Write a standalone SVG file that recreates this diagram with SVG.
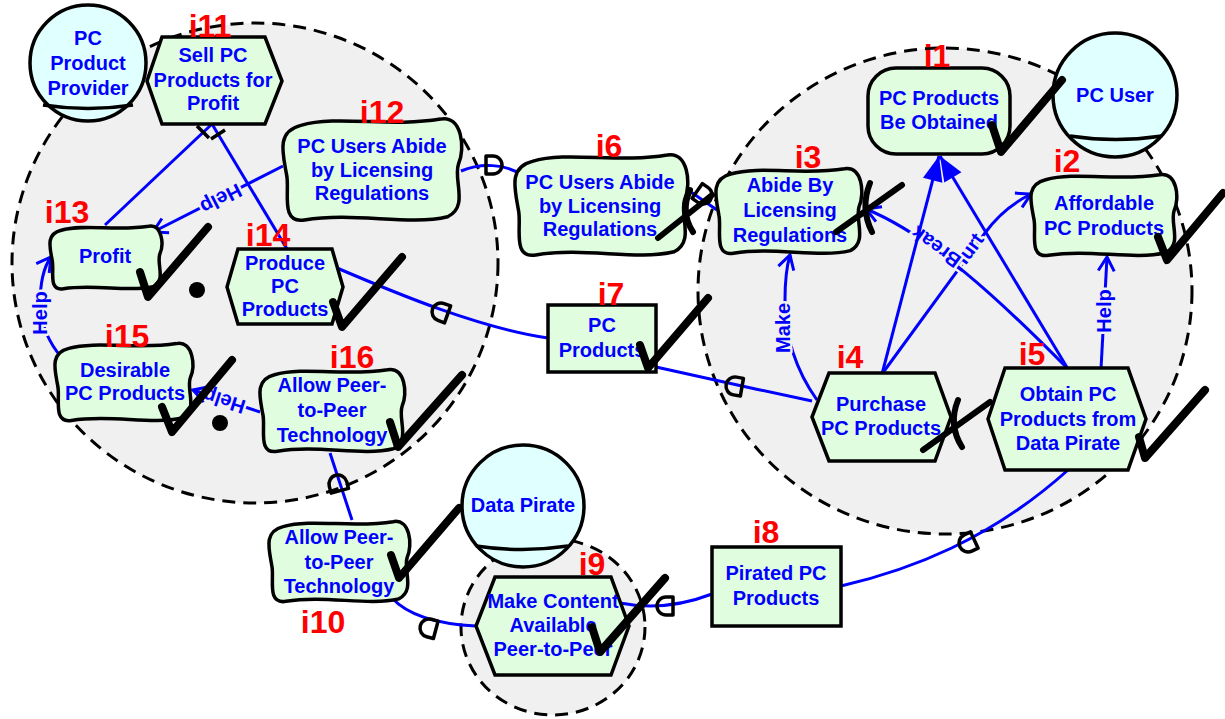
<svg xmlns="http://www.w3.org/2000/svg" xmlns:xlink="http://www.w3.org/1999/xlink" width="1225" height="719" viewBox="0 0 1225 719">
  <style>
    .bound { fill: #f0f0f0; stroke: #000; stroke-width: 3; stroke-dasharray: 13 8; }
    .actor { fill: #e0ffff; stroke: #000; stroke-width: 3.5; }
    .arc { fill: none; stroke: #000; stroke-width: 3.5; }
    .el { fill: #e0fde0; stroke: #000; stroke-width: 3.5; }
    .t { font-family: "Liberation Sans", Arial, sans-serif; font-weight: bold; font-size: 20px; fill: #0000ff; text-anchor: middle; }
    .id { font-family: "Liberation Sans", Arial, sans-serif; font-weight: bold; font-size: 32px; fill: #ff0000; text-anchor: middle; }
    .lnk { fill: none; stroke: #0000ff; stroke-width: 3; }
    .lbl { font-family: "Liberation Sans", Arial, sans-serif; font-weight: bold; font-size: 20px; fill: #0000ff; text-anchor: middle; dominant-baseline: central; stroke: #f0f0f0; stroke-width: 5; paint-order: stroke; stroke-linejoin: round; }
    .dm { fill: none; stroke: #000; stroke-width: 3.5; stroke-linejoin: round; }
    .bar { stroke: #000; stroke-width: 3.5; }
    .chk { fill: none; stroke: #000; stroke-width: 8; stroke-linecap: round; stroke-linejoin: round; }
    .den { fill: none; stroke: #000; stroke-width: 6; stroke-linecap: round; stroke-linejoin: round; }
    .dot { fill: #000; }
  </style>
  <defs>
    <!-- softgoal outline in a 100x100 box -->
    <path id="sg" vector-effect="non-scaling-stroke" d="M10,8 C30,-2 60,10 88,2 C100,-2 102,30 98,45 C95,60 104,85 92,95 C70,104 40,90 12,98 C-2,102 4,70 2,55 C0,35 -4,14 10,8 Z"/>
    <!-- dependency "D" symbol -->
    <path id="dmark" d="M-7,-9 L0,-9 A9,9 0 0 1 0,9 L-7,9 Z"/>
    <marker id="open" markerUnits="userSpaceOnUse" markerWidth="40" markerHeight="40" viewBox="-20 -20 40 40" refX="0" refY="0" orient="auto">
      <path d="M-14,-8 L0,0 L-14,8" fill="none" stroke="#0000ff" stroke-width="3" stroke-linejoin="miter"/>
    </marker>
    <marker id="solid" markerUnits="userSpaceOnUse" markerWidth="60" markerHeight="60" viewBox="-30 -30 60 60" refX="0" refY="0" orient="auto">
      <path d="M0,0 L-25,-10 L-25,10 Z" fill="#0000ff"/>
    </marker>
  </defs>

  <rect width="1225" height="719" fill="#ffffff"/>

  <!-- actor boundaries -->
  <g id="boundaries">
    <ellipse class="bound" cx="255" cy="263" rx="243" ry="240"/>
    <ellipse class="bound" cx="945" cy="291" rx="247" ry="243"/>
    <ellipse class="bound" cx="553" cy="627" rx="92" ry="88"/>
  </g>

  <!-- actors -->
  <g id="actor-provider">
    <circle class="actor" cx="88" cy="63" r="58"/>
    <path class="arc" d="M43,105 Q88,112 133,105"/>
    <text class="t"><tspan x="88" y="45">PC</tspan><tspan x="88" y="70">Product</tspan><tspan x="88" y="95">Provider</tspan></text>
  </g>
  <g id="actor-user">
    <circle class="actor" cx="1115" cy="95" r="62"/>
    <path class="arc" d="M1070,136 Q1115,143 1162,136"/>
    <text class="t" x="1115" y="102">PC User</text>
  </g>
  <g id="actor-pirate">
    <circle class="actor" cx="523" cy="506" r="61"/>
    <path class="arc" d="M476,546 Q522,553 568,546"/>
    <text class="t" x="523" y="512">Data Pirate</text>
  </g>

  <!-- connectors -->
  <g id="links">
    <!-- decomposition of i11 -->
    <path class="lnk" d="M212,124 L105,225"/>
    <path class="lnk" d="M212,124 L287,249"/>
    <line class="bar" x1="197" y1="126" x2="209" y2="138"/>
    <line class="bar" x1="211" y1="139" x2="225" y2="130"/>

    <!-- contributions -->
    <path class="lnk" d="M283,166 L153,232" marker-end="url(#open)"/>
    <text class="lbl" transform="translate(221,199) rotate(153)">Help</text>
    <path class="lnk" d="M62,358 Q42,335 40,305 Q40,272 51,257" marker-end="url(#open)"/>
    <text class="lbl" transform="translate(40,313) rotate(-90)">Help</text>
    <path class="lnk" d="M260,412 L193,390" marker-end="url(#open)"/>
    <text class="lbl" transform="translate(224,401) rotate(198)">Help</text>

    <path class="lnk" d="M817,400 Q785,355 785,300 Q785,272 790,255" marker-end="url(#open)"/>
    <text class="lbl" transform="translate(783,328) rotate(-90)">Make</text>
    <path class="lnk" d="M882,374 L985,233 Q1003,208 1031,194" marker-end="url(#open)"/>
    <text class="lbl" transform="translate(967,252) rotate(-54)">Hurt</text>
    <path class="lnk" d="M1068,369 C1000,300 930,235 866,209" marker-end="url(#open)"/>
    <text class="lbl" transform="translate(936,247) rotate(216)">Break</text>
    <path class="lnk" d="M1101,369 L1107,257" marker-end="url(#open)"/>
    <text class="lbl" transform="translate(1104,311) rotate(-90)">Help</text>

    <!-- means-ends -->
    <path class="lnk" d="M882,374 L939,156" marker-end="url(#solid)"/>
    <path class="lnk" d="M1068,369 L940,156" marker-end="url(#solid)"/>

    <!-- dependencies -->
    <path class="lnk" d="M461,171 C480,163 505,163 524,176"/>
    <use xlink:href="#dmark" class="dm" transform="translate(493,165)"/>
    <path class="lnk" d="M688,190 L717,210"/>
    <use xlink:href="#dmark" class="dm" transform="translate(703,195) rotate(35)"/>
    <path class="lnk" d="M337,268 C400,295 480,328 548,338"/>
    <use xlink:href="#dmark" class="dm" transform="translate(441,312) rotate(200)"/>
    <path class="lnk" d="M656,367 C700,377 760,390 812,401"/>
    <use xlink:href="#dmark" class="dm" transform="translate(735,386) rotate(190)"/>
    <path class="lnk" d="M330,453 L352,520"/>
    <use xlink:href="#dmark" class="dm" transform="translate(338,484) rotate(-105)"/>
    <path class="lnk" d="M392,598 Q415,623 476,626"/>
    <use xlink:href="#dmark" class="dm" transform="translate(429,628) rotate(195)"/>
    <path class="lnk" d="M620,603 Q665,612 712,594"/>
    <use xlink:href="#dmark" class="dm" transform="translate(666,606) rotate(180)"/>
    <path class="lnk" d="M841,586 C910,570 990,540 1068,470"/>
    <use xlink:href="#dmark" class="dm" transform="translate(968,543) rotate(155)"/>
  </g>

  <!-- intentional elements -->
  <g id="i11">
    <polygon class="el" points="162,37 265,37 282,81 265,124 162,124 147,81"/>
    <text class="t"><tspan x="213" y="62">Sell PC</tspan><tspan x="213" y="87">Products for</tspan><tspan x="213" y="110">Profit</tspan></text>
    <text class="id" x="210" y="37">i11</text>
  </g>
  <g id="i12">
    <use xlink:href="#sg" class="el" transform="translate(283,117) scale(1.79,1.05)"/>
    <text class="t"><tspan x="372" y="153">PC Users Abide</tspan><tspan x="372" y="177">by Licensing</tspan><tspan x="372" y="200">Regulations</tspan></text>
    <text class="id" x="382" y="123">i12</text>
  </g>
  <g id="i13">
    <use xlink:href="#sg" class="el" transform="translate(50,225) scale(1.12,0.65)"/>
    <text class="t" x="105" y="263">Profit</text>
    <text class="id" x="67" y="223">i13</text>
  </g>
  <g id="i14">
    <polygon class="el" points="238,249 332,249 343,287 332,324 238,324 227,287"/>
    <text class="t"><tspan x="285" y="270">Produce</tspan><tspan x="285" y="293">PC</tspan><tspan x="285" y="316">Products</tspan></text>
    <text class="id" x="268" y="246">i14</text>
  </g>
  <g id="i15">
    <use xlink:href="#sg" class="el" transform="translate(55,342) scale(1.38,0.80)"/>
    <text class="t"><tspan x="125" y="377">Desirable</tspan><tspan x="125" y="400">PC Products</tspan></text>
    <text class="id" x="127" y="347">i15</text>
  </g>
  <g id="i16">
    <use xlink:href="#sg" class="el" transform="translate(260,368) scale(1.45,0.85)"/>
    <text class="t"><tspan x="332" y="392">Allow Peer-</tspan><tspan x="332" y="417">to-Peer</tspan><tspan x="332" y="442">Technology</tspan></text>
    <text class="id" x="352" y="368">i16</text>
  </g>
  <g id="i6">
    <use xlink:href="#sg" class="el" transform="translate(515,153) scale(1.73,1.04)"/>
    <text class="t"><tspan x="600" y="189">PC Users Abide</tspan><tspan x="600" y="213">by Licensing</tspan><tspan x="600" y="236">Regulations</tspan></text>
    <text class="id" x="609" y="157">i6</text>
  </g>
  <g id="i7">
    <rect class="el" x="548" y="305" width="108" height="67"/>
    <text class="t"><tspan x="602" y="332">PC</tspan><tspan x="602" y="357">Products</tspan></text>
    <text class="id" x="611" y="305">i7</text>
  </g>
  <g id="i3">
    <use xlink:href="#sg" class="el" transform="translate(716,167) scale(1.46,0.88)"/>
    <text class="t"><tspan x="790" y="192">Abide By</tspan><tspan x="790" y="217">Licensing</tspan><tspan x="790" y="242">Regulations</tspan></text>
    <text class="id" x="808" y="168">i3</text>
  </g>
  <g id="i1">
    <rect class="el" x="868" y="68" width="142" height="86" rx="28" ry="28"/>
    <text class="t"><tspan x="939" y="105">PC Products</tspan><tspan x="939" y="129">Be Obtained</tspan></text>
    <text class="id" x="937" y="67">i1</text>
  </g>
  <g id="i2">
    <use xlink:href="#sg" class="el" transform="translate(1031,173) scale(1.46,0.84)"/>
    <text class="t"><tspan x="1104" y="210">Affordable</tspan><tspan x="1104" y="235">PC Products</tspan></text>
    <text class="id" x="1067" y="172">i2</text>
  </g>
  <g id="i4">
    <polygon class="el" points="829,373 935,373 951,417 935,461 829,461 812,417"/>
    <text class="t"><tspan x="881" y="411">Purchase</tspan><tspan x="881" y="435">PC Products</tspan></text>
    <text class="id" x="850" y="368">i4</text>
  </g>
  <g id="i5">
    <polygon class="el" points="1005,368 1128,368 1146,419 1128,470 1005,470 988,419"/>
    <text class="t"><tspan x="1068" y="401">Obtain PC</tspan><tspan x="1068" y="426">Products from</tspan><tspan x="1068" y="450">Data Pirate</tspan></text>
    <text class="id" x="1032" y="365">i5</text>
  </g>
  <g id="i10">
    <use xlink:href="#sg" class="el" transform="translate(269,520) scale(1.41,0.83)"/>
    <text class="t"><tspan x="339" y="544">Allow Peer-</tspan><tspan x="339" y="569">to-Peer</tspan><tspan x="339" y="593">Technology</tspan></text>
    <text class="id" x="323" y="633">i10</text>
  </g>
  <g id="i9">
    <polygon class="el" points="495,577 611,577 629,626 611,675 495,675 476,626"/>
    <text class="t"><tspan x="553" y="608">Make Content</tspan><tspan x="553" y="632">Available</tspan><tspan x="553" y="656">Peer-to-Peer</tspan></text>
    <text class="id" x="592" y="575">i9</text>
  </g>
  <g id="i8">
    <rect class="el" x="712" y="547" width="129" height="79"/>
    <text class="t"><tspan x="776" y="580">Pirated PC</tspan><tspan x="776" y="605">Products</tspan></text>
    <text class="id" x="766" y="543">i8</text>
  </g>

  <!-- evaluation marks -->
  <g id="marks">
    <path class="chk" d="M992,125 L1001,152 L1062,80"/>
    <path class="chk" d="M1158,237 L1167,260 L1223,193"/>
    <path class="chk" d="M1139,437 L1145,458 L1205,390"/>
    <path class="chk" d="M640,345 L648,368 L708,298"/>
    <path class="chk" d="M140,272 L148,297 L208,227"/>
    <path class="chk" d="M333,302 L342,327 L402,257"/>
    <path class="chk" d="M162,407 L172,432 L232,360"/>
    <path class="chk" d="M390,422 L398,447 L462,375"/>
    <path class="chk" d="M391,555 L399,578 L459,508"/>
    <path class="chk" d="M592,627 L600,652 L665,578"/>
    <!-- denied -->
    <path class="den" d="M870,183 Q860,208 872,232 M836,232 L902,185"/>
    <path class="den" d="M690,190 Q680,212 693,232 M658,238 L712,195"/>
    <path class="den" d="M958,400 Q948,425 962,447 M923,450 L990,402"/>
    <circle class="dot" cx="197" cy="290" r="8"/>
    <circle class="dot" cx="220" cy="423" r="8"/>
  </g>
</svg>
